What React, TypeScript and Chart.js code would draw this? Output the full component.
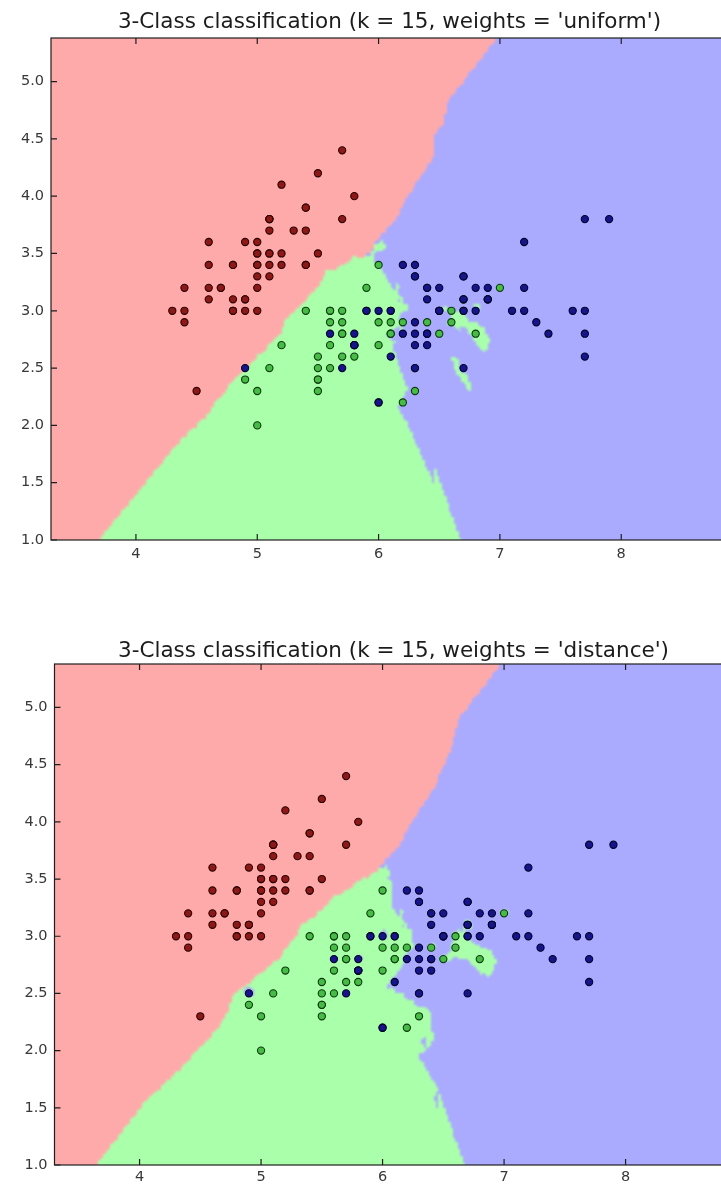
import React, { useEffect, useRef } from "react";
import { Chart, registerables } from "chart.js";

Chart.register(...registerables);

// ---- Iris data: sepal length (x) and sepal width (y) ----
const setosaLength = [5.1, 4.9, 4.7, 4.6, 5.0, 5.4, 4.6, 5.0, 4.4, 4.9, 5.4, 4.8, 4.8, 4.3, 5.8, 5.7, 5.4, 5.1, 5.7, 5.1, 5.4, 5.1, 4.6, 5.1, 4.8, 5.0, 5.0, 5.2, 5.2, 4.7, 4.8, 5.4, 5.2, 5.5, 4.9, 5.0, 5.5, 4.9, 4.4, 5.1, 5.0, 4.5, 4.4, 5.0, 5.1, 4.8, 5.1, 4.6, 5.3, 5.0];
const setosaWidth = [3.5, 3.0, 3.2, 3.1, 3.6, 3.9, 3.4, 3.4, 2.9, 3.1, 3.7, 3.4, 3.0, 3.0, 4.0, 4.4, 3.9, 3.5, 3.8, 3.8, 3.4, 3.7, 3.6, 3.3, 3.4, 3.0, 3.4, 3.5, 3.4, 3.2, 3.1, 3.4, 4.1, 4.2, 3.1, 3.2, 3.5, 3.6, 3.0, 3.4, 3.5, 2.3, 3.2, 3.5, 3.8, 3.0, 3.8, 3.2, 3.7, 3.3];
const versicolorLength = [7.0, 6.4, 6.9, 5.5, 6.5, 5.7, 6.3, 4.9, 6.6, 5.2, 5.0, 5.9, 6.0, 6.1, 5.6, 6.7, 5.6, 5.8, 6.2, 5.6, 5.9, 6.1, 6.3, 6.1, 6.4, 6.6, 6.8, 6.7, 6.0, 5.7, 5.5, 5.5, 5.8, 6.0, 5.4, 6.0, 6.7, 6.3, 5.6, 5.5, 5.5, 6.1, 5.8, 5.0, 5.6, 5.7, 5.7, 6.2, 5.1, 5.7];
const versicolorWidth = [3.2, 3.2, 3.1, 2.3, 2.8, 2.8, 3.3, 2.4, 2.9, 2.7, 2.0, 3.0, 2.2, 2.9, 2.9, 3.1, 3.0, 2.7, 2.2, 2.5, 3.2, 2.8, 2.5, 2.8, 2.9, 3.0, 2.8, 3.0, 2.9, 2.6, 2.4, 2.4, 2.7, 2.7, 3.0, 3.4, 3.1, 2.3, 3.0, 2.5, 2.6, 3.0, 2.6, 2.3, 2.7, 3.0, 2.9, 2.9, 2.5, 2.8];
const virginicaLength = [6.3, 5.8, 7.1, 6.3, 6.5, 7.6, 4.9, 7.3, 6.7, 7.2, 6.5, 6.4, 6.8, 5.7, 5.8, 6.4, 6.5, 7.7, 7.7, 6.0, 6.9, 5.6, 7.7, 6.3, 6.7, 7.2, 6.2, 6.1, 6.4, 7.2, 7.4, 7.9, 6.4, 6.3, 6.1, 7.7, 6.3, 6.4, 6.0, 6.9, 6.7, 6.9, 5.8, 6.8, 6.7, 6.7, 6.3, 6.5, 6.2, 5.9];
const virginicaWidth = [3.3, 2.7, 3.0, 2.9, 3.0, 3.0, 2.5, 2.9, 2.5, 3.6, 3.2, 2.7, 3.0, 2.5, 2.8, 3.2, 3.0, 3.8, 2.6, 2.2, 3.2, 2.8, 2.8, 2.7, 3.3, 3.2, 2.8, 3.0, 2.8, 3.0, 2.8, 3.8, 2.8, 2.8, 2.6, 3.0, 3.4, 3.1, 3.0, 3.1, 3.1, 3.1, 2.7, 3.2, 3.3, 3.0, 2.5, 3.0, 3.4, 3.0];

const titles = [
  "3-Class classification (k = 15, weights = 'uniform')",
  "3-Class classification (k = 15, weights = 'distance')",
];
const weightModes = ["uniform", "distance"];
const xTickValues = [4, 5, 6, 7, 8];
const yTickValues = [1.0, 1.5, 2.0, 2.5, 3.0, 3.5, 4.0, 4.5, 5.0];

const kNeighbors = 15;
const meshStep = 0.02;

const lightColors = ["#FFAAAA", "#AAFFAA", "#AAAAFF"];
const pointFill = ["#8c1818", "#46bc46", "#16168a"];
const pointEdge = ["#2a0000", "#0c380c", "#00002a"];

// numpy.arange semantics
function arange(start: number, stop: number, step: number): number[] {
  const n = Math.ceil((stop - start) / step);
  const out: number[] = [];
  if (n <= 0) return out;
  out.push(start);
  if (n > 1) out.push(start + step);
  const delta = out.length > 1 ? out[1] - out[0] : step;
  for (let i = 2; i < n; i++) out.push(start + i * delta);
  return out;
}

type Mesh = { gx: number[]; gy: number[]; z: Uint8Array[] };

function computeMeshes(): Mesh {
  const X = [...setosaLength, ...versicolorLength, ...virginicaLength];
  const Y = [...setosaWidth, ...versicolorWidth, ...virginicaWidth];
  const C: number[] = [
    ...setosaLength.map(() => 0),
    ...versicolorLength.map(() => 1),
    ...virginicaLength.map(() => 2),
  ];
  const n = X.length;
  const gx = arange(Math.min(...X) - 1, Math.max(...X) + 1, meshStep);
  const gy = arange(Math.min(...Y) - 1, Math.max(...Y) + 1, meshStep);
  const nx = gx.length;
  const ny = gy.length;
  const zu = new Uint8Array(nx * ny);
  const zd = new Uint8Array(nx * ny);
  const bd = new Float64Array(kNeighbors);
  const bi = new Int32Array(kNeighbors);
  for (let j = 0; j < ny; j++) {
    const py = gy[j];
    for (let i = 0; i < nx; i++) {
      const px = gx[i];
      let cnt = 0;
      for (let p = 0; p < n; p++) {
        const dx = px - X[p];
        const dy = py - Y[p];
        let d = dx * dx;
        d += dy * dy;
        if (cnt < kNeighbors) {
          let pos = cnt++;
          while (pos > 0 && bd[pos - 1] > d) {
            bd[pos] = bd[pos - 1];
            bi[pos] = bi[pos - 1];
            pos--;
          }
          bd[pos] = d;
          bi[pos] = p;
        } else if (d < bd[kNeighbors - 1]) {
          let pos = kNeighbors - 1;
          while (pos > 0 && bd[pos - 1] > d) {
            bd[pos] = bd[pos - 1];
            bi[pos] = bi[pos - 1];
            pos--;
          }
          bd[pos] = d;
          bi[pos] = p;
        }
      }
      const cu = [0, 0, 0];
      const cw = [0, 0, 0];
      let hasZero = false;
      for (let q = 0; q < kNeighbors; q++) if (bd[q] === 0) hasZero = true;
      for (let q = 0; q < kNeighbors; q++) {
        const c = C[bi[q]];
        cu[c] += 1;
        const dist = Math.sqrt(bd[q]);
        cw[c] += hasZero ? (dist === 0 ? 1 : 0) : 1 / dist;
      }
      let bu = 0;
      let bw = 0;
      for (let c = 1; c < 3; c++) {
        if (cu[c] > cu[bu]) bu = c;
        if (cw[c] > cw[bw]) bw = c;
      }
      zu[j * nx + i] = bu;
      zd[j * nx + i] = bw;
    }
  }
  return { gx, gy, z: [zu, zd] };
}

let cachedMesh: Mesh | null = null;
function getMesh(): Mesh {
  if (!cachedMesh) cachedMesh = computeMeshes();
  return cachedMesh;
}

function paintCells(ctx: CanvasRenderingContext2D, xs: any, ys: any, gx: number[], gy: number[], z: Uint8Array) {
  const nx = gx.length;
  const ny = gy.length;
  const xp = gx.map((v) => Math.round(xs.getPixelForValue(v)));
  for (let j = 0; j < ny - 1; j++) {
    const y0 = Math.round(ys.getPixelForValue(gy[j]));
    const y1 = Math.round(ys.getPixelForValue(gy[j + 1]));
    let i = 0;
    while (i < nx - 1) {
      const c = z[j * nx + i];
      let e = i + 1;
      while (e < nx - 1 && z[j * nx + e] === c) e++;
      ctx.fillStyle = lightColors[c];
      ctx.fillRect(xp[i], y1, xp[e] - xp[i], y0 - y1);
      i = e;
    }
  }
}

function makeMeshPlugin(gx: number[], gy: number[], z: Uint8Array) {
  return {
    id: "knnMesh",
    beforeDatasetsDraw(chart: any) {
      const { ctx, chartArea: a, scales, canvas } = chart;
      ctx.save();
      ctx.beginPath();
      ctx.rect(a.left, a.top, a.right - a.left, a.bottom - a.top);
      ctx.clip();
      paintCells(ctx, scales.x, scales.y, gx, gy, z);
      // soften the cell staircase a little (as in the scaled reference image)
      const off = document.createElement("canvas");
      off.width = canvas.width;
      off.height = canvas.height;
      const octx = off.getContext("2d");
      if (octx) {
        paintCells(octx, scales.x, scales.y, gx, gy, z);
        ctx.filter = "blur(1.2px)";
        ctx.drawImage(off, 0, 0);
        ctx.filter = "none";
      }
      ctx.restore();
    },
  };
}

const framePlugin = {
  id: "frameTicks",
  afterDatasetsDraw(chart: any) {
    const { ctx, chartArea: a, scales } = chart;
    const tl = 6;
    ctx.save();
    ctx.strokeStyle = "#1e1e1e";
    ctx.lineWidth = 1.2;
    ctx.beginPath();
    for (const v of xTickValues) {
      const px = scales.x.getPixelForValue(v);
      ctx.moveTo(px, a.bottom);
      ctx.lineTo(px, a.bottom - tl);
      ctx.moveTo(px, a.top);
      ctx.lineTo(px, a.top + tl);
    }
    for (const v of yTickValues) {
      const py = scales.y.getPixelForValue(v);
      ctx.moveTo(a.left, py);
      ctx.lineTo(a.left + tl, py);
      ctx.moveTo(a.right, py);
      ctx.lineTo(a.right - tl, py);
    }
    ctx.stroke();
    ctx.strokeRect(a.left, a.top, a.right - a.left, a.bottom - a.top);
    ctx.restore();
  },
};

type Layout = {
  top: number;
  width: number;
  height: number;
  left: number;
  right: number;
  titleCenter: number;
  areaTop: number;
  xAxisH: number;
  bottomPad: number;
  xLabelPad: number;
};

const layouts: Layout[] = [
  { top: 0, width: 736, height: 600, left: 51, right: 728, titleCenter: 22, areaTop: 38, xAxisH: 40, bottomPad: 20, xLabelPad: 6 },
  { top: 600, width: 740, height: 587, left: 54.5, right: 732.5, titleCenter: 51, areaTop: 64, xAxisH: 22, bottomPad: 0, xLabelPad: 4 },
];

function KnnChart({ idx }: { idx: number }) {
  const ref = useRef<HTMLCanvasElement | null>(null);
  const L = layouts[idx];
  useEffect(() => {
    const canvas = ref.current;
    if (!canvas) return;
    const mesh = getMesh();
    const gx = mesh.gx;
    const gy = mesh.gy;
    const titleSize = 21.5;
    const titleLH = titleSize * 1.2;
    const padTop = L.titleCenter - titleLH / 2;
    const padBottom = Math.max(0, L.areaTop - padTop - titleLH);
    const tickFont = { family: "DejaVu Sans", size: 14.5 };
    const groups = [
      { lx: setosaLength, ly: setosaWidth, order: 2 },
      { lx: versicolorLength, ly: versicolorWidth, order: 1 },
      { lx: virginicaLength, ly: virginicaWidth, order: 0 },
    ];
    const chart = new Chart(canvas, {
      type: "scatter",
      data: {
        datasets: groups.map((g, c) => ({
          label: ["setosa", "versicolor", "virginica"][c],
          data: g.lx.map((x, i) => ({ x, y: g.ly[i] })),
          order: g.order,
          pointRadius: 3.6,
          pointBorderWidth: 1.1,
          pointBackgroundColor: pointFill[c],
          pointBorderColor: pointEdge[c],
          backgroundColor: pointFill[c],
          borderColor: pointEdge[c],
        })),
      },
      options: {
        animation: false,
        responsive: false,
        devicePixelRatio: 1,
        events: [],
        layout: { padding: { left: 0, right: L.width - L.right, top: 0, bottom: L.bottomPad } },
        plugins: {
          legend: { display: false },
          tooltip: { enabled: false },
          title: {
            display: true,
            text: titles[idx],
            fullSize: false,
            color: "#1c1c1c",
            font: { family: "DejaVu Sans", size: titleSize, weight: "normal", lineHeight: 1.2 },
            padding: { top: padTop, bottom: padBottom },
          },
        },
        scales: {
          x: {
            type: "linear",
            min: gx[0],
            max: gx[gx.length - 1],
            grid: { display: false, drawTicks: false },
            border: { display: false },
            afterBuildTicks: (s: any) => {
              s.ticks = xTickValues.map((v) => ({ value: v }));
            },
            afterFit: (s: any) => {
              s.height = L.xAxisH;
            },
            ticks: {
              font: tickFont,
              color: "#383838",
              padding: L.xLabelPad,
              maxRotation: 0,
              autoSkip: false,
              callback: (v: any) => String(v),
            },
          },
          y: {
            type: "linear",
            min: gy[0],
            max: gy[gy.length - 1],
            grid: { display: false, drawTicks: false },
            border: { display: false },
            afterBuildTicks: (s: any) => {
              s.ticks = yTickValues.map((v) => ({ value: v }));
            },
            afterFit: (s: any) => {
              s.width = L.left;
            },
            ticks: {
              font: tickFont,
              color: "#383838",
              padding: 7,
              autoSkip: false,
              callback: (v: any) => Number(v).toFixed(1),
            },
          },
        },
      } as any,
      plugins: [makeMeshPlugin(gx, gy, mesh.z[idx]), framePlugin],
    });
    return () => chart.destroy();
  }, [idx]);
  return (
    <canvas
      ref={ref}
      width={L.width}
      height={L.height}
      data-weights={weightModes[idx]}
      style={{ position: "absolute", left: 0, top: L.top, width: L.width, height: L.height, display: "block" }}
    />
  );
}

export default function App() {
  return (
    <div
      style={{
        position: "absolute",
        left: 0,
        top: 0,
        width: 721,
        height: 1187,
        overflow: "hidden",
        background: "#ffffff",
      }}
    >
      <KnnChart idx={0} />
      <KnnChart idx={1} />
    </div>
  );
}
